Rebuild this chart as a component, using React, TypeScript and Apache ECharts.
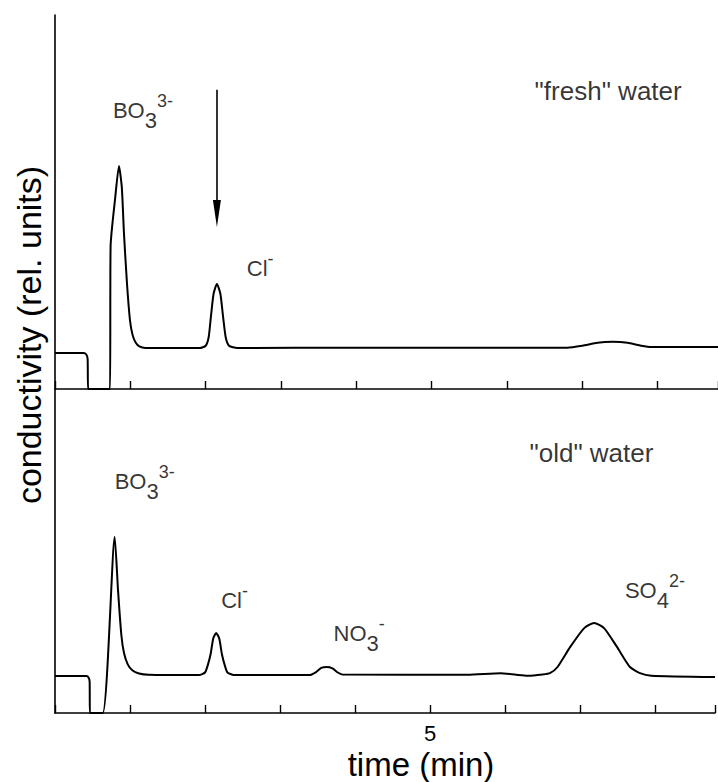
import React, { useEffect, useRef } from 'react';
import * as echarts from 'echarts';

// time (min), conductivity (rel. units) — "fresh" water trace
const freshTrace: [number, number][] = [
  [0, 11.1], [0.38, 11.1], [0.415, 10.6], [0.433, 9.3], [0.44, 0],
  [0.73, 0], [0.738, 44], [0.8, 59], [0.849, 68.6], [0.887, 62],
  [0.915, 48], [0.955, 32.6], [0.995, 21.2], [1.03, 16.6], [1.07, 14.3],
  [1.12, 13.1], [1.2, 12.6], [1.92, 12.6], [2.0, 13.3], [2.04, 16],
  [2.07, 22.4], [2.105, 29.3], [2.149, 32.3], [2.195, 29.3], [2.23, 22.4],
  [2.265, 16], [2.31, 13.3], [2.42, 12.6], [4.0, 12.7], [6.8, 12.7],
  [7.0, 13.3], [7.2, 14.2], [7.4, 14.5], [7.6, 14.2], [7.78, 13.3],
  [7.92, 12.9], [8.8, 12.9],
];

// "old" water trace
const oldTrace: [number, number][] = [
  [0, 11.4], [0.42, 11.4], [0.45, 10.8], [0.462, 9.6], [0.465, 0],
  [0.637, 0], [0.796, 54.3], [0.84, 38], [0.885, 24], [0.92, 18.5],
  [0.97, 15], [1.03, 13.2], [1.12, 12.2], [1.25, 11.8], [1.92, 11.7],
  [2.0, 12.5], [2.04, 15], [2.075, 18.2], [2.11, 23], [2.149, 24.7],
  [2.19, 23], [2.225, 18.2], [2.26, 15], [2.3, 12.5], [2.4, 11.7],
  [3.4, 11.7], [3.48, 12.6], [3.55, 13.9], [3.62, 14.2], [3.7, 13.8],
  [3.77, 12.5], [3.83, 11.9], [5.5, 11.8], [5.94, 12.3], [6.15, 11.8],
  [6.3, 11.5], [6.5, 11.9], [6.605, 12.4], [6.7, 14.2], [6.87, 20.4],
  [7.056, 26.2], [7.188, 27.8], [7.321, 26.2], [7.493, 20.4], [7.666, 14.2],
  [7.8, 12.3], [7.95, 11.5], [8.8, 11.1],
];

const xTickLabels: Record<number, string> = { 5: '5' };

// arrow marking the Cl- peak in the upper trace: [time, top value, head value]
const arrowFresh: [number, number, number] = [2.149, 92, 54];

// peak labels: [time, value, main, subscript, superscript]
const freshPeakLabels: [number, number, string, string, string][] = [
  [0.769, 85.7, 'BO', '3', '3-'],
  [2.546, 37.2, 'Cl', '', '-'],
];
const oldPeakLabels: [number, number, string, string, string][] = [
  [0.796, 71.5, 'BO', '3', '3-'],
  [2.215, 34.6, 'Cl', '', '-'],
  [3.714, 24.5, 'NO', '3', '-'],
  [7.599, 37.8, 'SO', '4', '2-'],
];
// panel titles: [time, value, text]
const freshTitle: [number, number, string] = [6.366, 91.7, '"fresh" water'];
const oldTitle: [number, number, string] = [6.326, 80.1, '"old" water'];

const FONT = '"Liberation Sans", Arial, Helvetica, sans-serif';

const rich = {
  m: { fontSize: 22, lineHeight: 40, fontFamily: FONT, color: '#000' },
  s: { fontSize: 22, height: 20, lineHeight: 20, verticalAlign: 'bottom', fontFamily: FONT, color: '#000' },
  p: { fontSize: 18, height: 21, lineHeight: 21, verticalAlign: 'top', fontFamily: FONT, color: '#000' },
  t: { fontSize: 26, lineHeight: 40, fontFamily: FONT, color: '#000' },
};

function labelSeries(
  items: [number, number, string, string, string][],
  title: [number, number, string],
  idx: number
) {
  const data: any[] = items.map(([t, v, m, s, p]) => ({
    value: [t, v],
    label: { formatter: `{m|${m}}` + (s ? `{s|${s}}` : '') + (p ? `{p|${p}}` : '') },
  }));
  data.push({ value: [title[0], title[1]], label: { formatter: `{t|${title[2]}}` } });
  return {
    type: 'scatter',
    xAxisIndex: idx,
    yAxisIndex: idx,
    symbol: 'circle',
    symbolSize: 1,
    silent: true,
    itemStyle: { color: 'rgba(0,0,0,0)' },
    label: {
      show: true,
      position: 'inside',
      align: 'left',
      verticalAlign: 'middle',
      color: '#000',
      fontSize: 22,
      fontFamily: FONT,
      textBorderWidth: 0,
      rich,
    },
    data,
  };
}

export default function App() {
  const ref = useRef<HTMLDivElement>(null);
  useEffect(() => {
    if (!ref.current) return;
    const chart = echarts.init(ref.current, null, { renderer: 'svg' });
    const axisLine = { show: true, lineStyle: { color: '#000', width: 1.6 } };
    const xBase = (idx: number, showLabel: boolean) => ({
      type: 'value',
      gridIndex: idx,
      min: 0,
      max: 8.8,
      interval: 1,
      splitLine: { show: false },
      axisLine,
      axisTick: { show: true, inside: true, length: 8, lineStyle: { color: '#000', width: 1.4 } },
      axisLabel: {
        show: showLabel,
        color: '#000',
        fontSize: 22,
        fontFamily: FONT,
        margin: 9,
        formatter: (v: number) => xTickLabels[v] ?? '',
      },
    });
    const yBase = (idx: number, max: number) => ({
      type: 'value',
      gridIndex: idx,
      min: 0,
      max,
      axisLine,
      axisTick: { show: false },
      axisLabel: { show: false },
      splitLine: { show: false },
    });
    chart.setOption({
      animation: false,
      backgroundColor: '#fff',
      grid: [
        { left: 55, top: 15, width: 663, height: 374 },
        { left: 55, top: 389, width: 663, height: 324 },
      ],
      xAxis: [xBase(0, false), xBase(1, true)],
      yAxis: [yBase(0, 115), yBase(1, 100)],
      graphic: [
        {
          type: 'text',
          x: 29,
          y: 335,
          rotation: Math.PI / 2,
          style: {
            text: 'conductivity (rel. units)',
            fontSize: 34,
            fontFamily: FONT,
            fill: '#000',
            align: 'center',
            verticalAlign: 'middle',
          },
        },
        {
          type: 'text',
          x: 421,
          y: 764,
          style: {
            text: 'time (min)',
            fontSize: 33,
            fontFamily: FONT,
            fill: '#000',
            align: 'center',
            verticalAlign: 'middle',
          },
        },
      ],
      series: [
        {
          type: 'line',
          xAxisIndex: 0,
          yAxisIndex: 0,
          data: freshTrace,
          showSymbol: false,
          smooth: 0.2,
          lineStyle: { color: '#000', width: 2 },
          silent: true,
          markLine: {
            silent: true,
            symbol: ['none', 'triangle'],
            symbolSize: [8, 27],
            label: { show: false },
            lineStyle: { color: '#000', width: 1.6, type: 'solid' },
            data: [[
              { coord: [arrowFresh[0], arrowFresh[1]] },
              { coord: [arrowFresh[0], arrowFresh[2]] },
            ]],
          },
        },
        {
          type: 'line',
          xAxisIndex: 1,
          yAxisIndex: 1,
          data: oldTrace,
          showSymbol: false,
          smooth: 0.2,
          lineStyle: { color: '#000', width: 2 },
          silent: true,
        },
        labelSeries(freshPeakLabels, freshTitle, 0),
        labelSeries(oldPeakLabels, oldTitle, 1),
      ],
    });
    return () => chart.dispose();
  }, []);
  return (
    <div
      ref={ref}
      style={{ position: 'fixed', left: 0, top: 0, width: 718, height: 782, background: '#fff' }}
    />
  );
}
